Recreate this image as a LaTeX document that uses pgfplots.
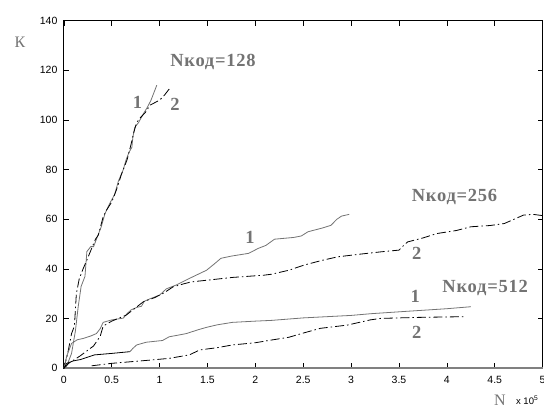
\documentclass[border=0pt]{standalone}
\usepackage{fontspec}
\setmainfont{Liberation Sans}
\newfontfamily\tnr{Liberation Serif}
\newfontfamily\tnrls[LetterSpace=4]{Liberation Serif}
\usepackage{pgfplots}
\pgfplotsset{compat=1.18}
\definecolor{lg}{gray}{0.45}
\definecolor{cg}{gray}{0.45}
\begin{document}
\begin{tikzpicture}[x=1pt,y=1pt]
\clip (-63.9,-38.7) rectangle (480.1,368.3);
\begin{axis}[at={(0,0)},anchor=south west,scale only axis,
  width=478.7pt,height=347.6pt,
  xmin=0,xmax=5,ymin=0,ymax=140,
  xtick={0,0.5,1,1.5,2,2.5,3,3.5,4,4.5,5},
  xticklabels={0,0.5,1,1.5,2,2.5,3,3.5,4,4.5,5},
  ytick={0,20,40,60,80,100,120,140},
  tick align=inside,major tick length=5pt,
  tick style={black,line width=0.6pt},
  axis line style={line width=0.8pt},
  ticklabel style={font=\fontsize{10.5}{12}\selectfont},
  /pgf/number format/assume math mode=true,
  xticklabel style={yshift=-4pt},
  yticklabel style={xshift=-3pt},
  scaled ticks=false, clip=false]
\draw[gray,line width=1.6pt] (rel axis cs:0,0) -- (rel axis cs:1,0);
% Nkod=128
\addplot[cg,line width=0.8pt] coordinates {(0,0)(0.03,1)(0.06,4)(0.08,6)(0.12,15)(0.15,25)(0.18,33)(0.22,37)(0.24,47)(0.28,49)(0.31,49)(0.36,54)(0.39,57)(0.43,62.4)(0.48,66.5)(0.53,70)(0.57,75.5)(0.62,80)(0.65,84)(0.68,87)(0.71,89)(0.72,93)(0.74,97)(0.78,99)(0.83,102.5)(0.87,105)(0.91,108)(0.94,111)(0.97,114)};
\addplot[black,line width=0.8pt,dash pattern=on 9pt off 3pt on 1.5pt off 3pt] coordinates {(0,0)(0.04,6)(0.08,14)(0.11,17)(0.13,30)(0.16,36)(0.2,40)(0.24,43.6)(0.29,48.3)(0.33,52)(0.36,53.7)(0.41,61)(0.45,64)(0.5,67)(0.55,72)(0.6,78)(0.66,84)(0.7,90)(0.73,95)(0.76,99)(0.8,101)(0.85,103)(0.9,106)(1.0,108)(1.05,110)(1.1,112.5)};
% Nkod=256
\addplot[cg,line width=0.8pt] coordinates {(0,0)(0.03,5)(0.08,10)(0.14,11.5)(0.2,12)(0.28,13)(0.34,14)(0.38,16)(0.41,18.5)(0.5,19.5)(0.62,20.2)(0.66,22)(0.70,23.5)(0.76,24.5)(0.81,25)(0.84,27)(0.9,28)(1.0,29.5)(1.07,32)(1.17,33.5)(1.3,36)(1.49,39.5)(1.57,42)(1.64,44.3)(1.75,45.2)(1.93,46.3)(2.03,48.3)(2.11,49.5)(2.2,52)(2.4,52.7)(2.48,53.3)(2.55,55)(2.7,56.5)(2.79,57.6)(2.85,60)(2.9,61.3)(2.98,62)};
\addplot[black,line width=0.8pt,dash pattern=on 9pt off 3pt on 1.5pt off 3pt] coordinates {(0,0)(0.05,2)(0.17,5)(0.31,9)(0.38,13)(0.41,17)(0.5,19)(0.65,21.4)(0.79,25.6)(0.83,26.8)(0.95,28.5)(1.05,30.5)(1.14,32.8)(1.25,34)(1.33,34.8)(1.5,35.5)(1.76,36.6)(2.09,37.5)(2.17,37.9)(2.35,39.5)(2.51,41.6)(2.7,43.5)(2.86,44.9)(3.1,46)(3.31,46.9)(3.5,47.6)(3.55,49.5)(3.59,50.9)(3.75,52.5)(3.9,54.3)(4.1,55.5)(4.25,57)(4.45,57.5)(4.6,58.3)(4.7,60)(4.8,61.7)(4.9,62)(5.0,61.5)};
% Nkod=512
\addplot[black,line width=0.8pt] coordinates {(0,0)(0.03,2)(0.1,3)(0.17,3.5)(0.25,4.5)(0.32,5.4)(0.5,6)(0.69,6.7)};
\addplot[cg,line width=0.8pt] coordinates {(0.69,6.7)(0.72,8)(0.76,9.4)(0.86,10.5)(1.03,11.2)(1.1,12.7)(1.2,13.4)(1.28,14)(1.4,15.5)(1.49,16.5)(1.6,17.5)(1.76,18.5)(2.0,19)(2.17,19.3)(2.5,20.3)(3.0,21.3)(3.21,22)(3.6,23)(4.0,24)(4.25,24.8)};
\addplot[black,line width=0.8pt,dash pattern=on 9pt off 3pt on 1.5pt off 3pt] coordinates {(0.29,1)(0.5,2)(0.9,3.3)(1.1,4)(1.31,5.4)(1.42,7.4)(1.6,8.3)(1.76,9.4)(2.0,10.3)(2.17,11.4)(2.35,12.5)(2.51,14.3)(2.68,16.1)(2.96,17.4)(3.2,19.5)(3.31,20.1)(3.7,20.5)(4.2,20.8)};
% labels
\tikzset{lab/.style={text=lg,font=\tnrls\bfseries\fontsize{18.5}{22}\selectfont,inner sep=0pt}}
\node[lab] at (axis cs:1.557,123.4) {Nкод=128};
\node[lab] at (axis cs:4.08,69) {Nкод=256};
\node[lab] at (axis cs:4.40,32.3) {Nкод=512};
\node[lab] at (axis cs:0.77,107) {1};
\node[lab] at (axis cs:1.16,106.4) {2};
\node[lab] at (axis cs:1.944,52.9) {1};
\node[lab] at (axis cs:3.686,46.3) {2};
\node[lab] at (axis cs:3.67,29.1) {1};
\node[lab] at (axis cs:3.686,14.4) {2};
\end{axis}
\node[text=lg,font=\tnr\fontsize{16}{18}\selectfont,inner sep=0pt] at (-43.9,326.3) {К};
\node[text=lg,font=\tnr\fontsize{16}{18}\selectfont,inner sep=0pt] at (436.1,-31.7) {N};
\node[anchor=west,font=\fontsize{9.5}{10}\selectfont,inner sep=0pt] at (452,-31.7) {x 10\textsuperscript{5}};
\end{tikzpicture}
\end{document}
